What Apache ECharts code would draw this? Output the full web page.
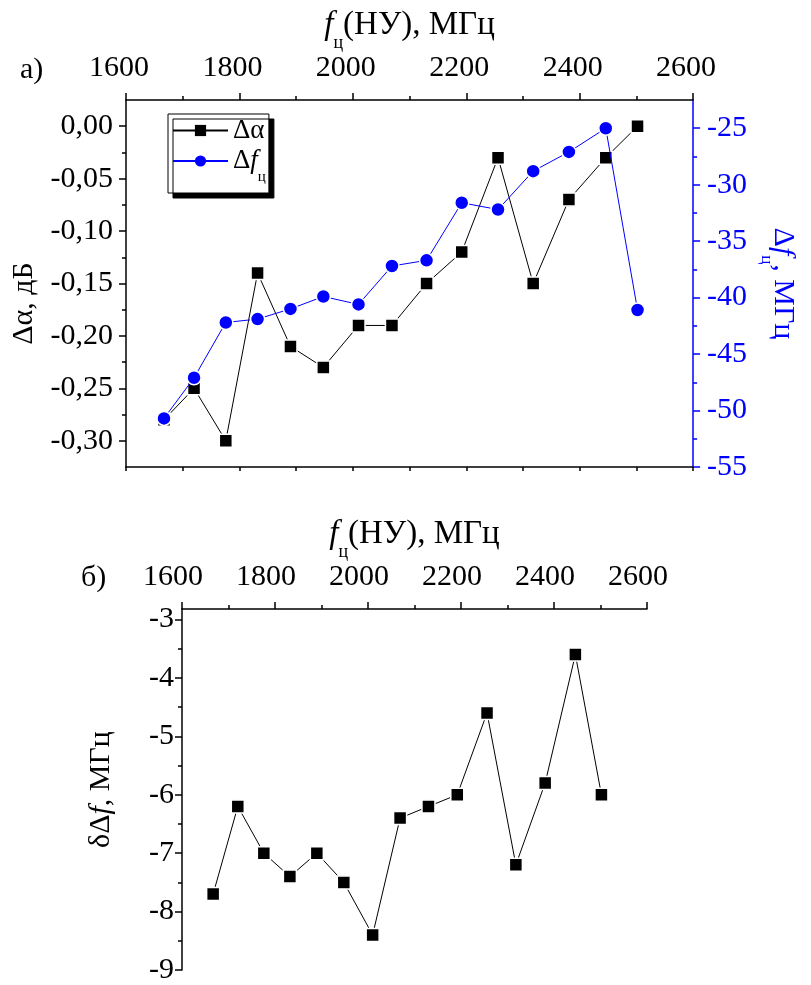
<!DOCTYPE html>
<html>
<head>
<meta charset="utf-8">
<script src="https://cdn.jsdelivr.net/npm/echarts@6/dist/echarts.min.js"></script>
<style>
html,body{margin:0;padding:0;background:#fff;}
#chart{width:811px;height:985px;}
</style>
</head>
<body>
<div id="chart"></div>
<script>
// ---- data ----
const freq = [1667, 1720, 1776, 1832, 1890, 1948, 2010, 2069, 2130, 2192, 2256, 2318, 2381, 2446, 2502];
const dAlpha = [-0.28, -0.25, -0.30, -0.14, -0.21, -0.23, -0.19, -0.19, -0.15, -0.12, -0.03, -0.15, -0.07, -0.03, 0.00];
const dFc = [-50.7, -47.1, -42.2, -41.9, -41.0, -39.9, -40.6, -37.2, -36.7, -31.6, -32.2, -28.8, -27.1, -25.0, -41.1];
const ddF = [-7.7, -6.2, -7.0, -7.4, -7.0, -7.5, -8.4, -6.4, -6.2, -6.0, -4.6, -7.2, -5.8, -3.6, -6.0];

// ---- tick labels ----
const alphaTicks = [0, -0.05, -0.10, -0.15, -0.20, -0.25, -0.30];
const alphaMinor = [-0.025, -0.075, -0.125, -0.175, -0.225, -0.275];
const dfTicks = [-25, -30, -35, -40, -45, -50, -55];
const dfMinor = [-27.5, -32.5, -37.5, -42.5, -47.5, -52.5];
const ddTicks = [-3, -4, -5, -6, -7, -8, -9];
const ddMinor = [-3.5, -4.5, -5.5, -6.5, -7.5, -8.5];

const FONT = 'Liberation Serif';
const BLUE = '#0000ff';
const BLACK = '#000';

const nameRich = {
  n: {fontFamily: FONT, fontSize: 30, color: BLACK, lineHeight: 40},
  i: {fontFamily: FONT, fontSize: 30, fontStyle: 'italic', color: BLACK, lineHeight: 40},
  s: {fontFamily: FONT, fontSize: 17, color: BLACK, lineHeight: 10, padding: [28, 0, 0, 0], verticalAlign: 'top'}
};
const titleRich = {
  n: {fontFamily: FONT, fontSize: 33, color: BLACK, lineHeight: 42},
  i: {fontFamily: FONT, fontSize: 33, fontStyle: 'italic', color: BLACK, lineHeight: 42},
  s: {fontFamily: FONT, fontSize: 18, color: BLACK, lineHeight: 10, padding: [30, 0, 0, 0], verticalAlign: 'top'}
};
const nameRichBlue = {
  n: Object.assign({}, nameRich.n, {color: BLUE}),
  i: Object.assign({}, nameRich.i, {color: BLUE}),
  s: Object.assign({}, nameRich.s, {color: BLUE})
};
const freqName = '{i|f}{s|ц}{n|(НУ), МГц}';

function lineStyle(c) { return {color: c, width: 1.5}; }

function topFreqAxis(grid, shift) {
  return {
    type: 'value', gridIndex: grid, position: 'top',
    min: 1600, max: 2600, interval: 200,
    axisLine: {show: true, onZero: false, lineStyle: lineStyle(BLACK)},
    axisTick: {show: true, inside: false, length: 7, lineStyle: lineStyle(BLACK)},
    minorTick: {show: true, splitNumber: 2, length: 4, lineStyle: lineStyle(BLACK)},
    splitLine: {show: false}, minorSplitLine: {show: false},
    axisLabel: {fontFamily: FONT, fontSize: 30, color: BLACK, margin: 17, padding: [0, shift, 0, 0],
      formatter: function (v) { return String(v); }},
    name: freqName, nameLocation: 'middle', nameGap: 50,
    nameTextStyle: {rich: titleRich}
  };
}

const chart = echarts.init(document.getElementById('chart'), null, {renderer: 'canvas'});

const option = {
  backgroundColor: '#fff',
  animation: false,
  title: [
    {text: 'а)', left: 15, top: 50, padding: 5, textStyle: {fontFamily: FONT, fontSize: 30, fontWeight: 'normal', color: BLACK}},
    {text: 'б)', left: 76, top: 558, padding: 5, textStyle: {fontFamily: FONT, fontSize: 30, fontWeight: 'normal', color: BLACK}}
  ],
  legend: {
    show: true, orient: 'vertical', left: 168, top: 114,
    padding: [3, 3, 8, 4], itemGap: 2, itemWidth: 55, itemHeight: 14,
    backgroundColor: '#fff', borderColor: BLACK, borderWidth: 1,
    shadowColor: BLACK, shadowBlur: 0, shadowOffsetX: 5, shadowOffsetY: 5,
    selectedMode: false,
    itemStyle: {borderWidth: 0},
    data: ['Δα', 'Δfц'],
    formatter: function (n) { return n === 'Δα' ? '{n|Δα}' : '{n|Δ}{i|f}{s|ц}'; },
    textStyle: {
      fontFamily: FONT, fontSize: 27, color: BLACK,
      rich: {
        n: {fontFamily: FONT, fontSize: 27, color: BLACK, lineHeight: 30},
        i: {fontFamily: FONT, fontSize: 27, fontStyle: 'italic', color: BLACK, lineHeight: 30},
        s: {fontFamily: FONT, fontSize: 15, color: BLACK, lineHeight: 6, padding: [24, 0, 0, 0], verticalAlign: 'top'}
      }
    }
  },
  grid: [
    {left: 126, top: 100, width: 575, height: 367, containLabel: false},
    {left: 182, top: 609, width: 465, height: 367, containLabel: false}
  ],
  xAxis: [
    topFreqAxis(0, 14),
    {
      type: 'value', gridIndex: 0, position: 'bottom',
      min: 1600, max: 2600, interval: 100,
      axisLine: {show: true, onZero: false, lineStyle: lineStyle(BLACK)},
      axisTick: {show: true, inside: false, length: 4, lineStyle: lineStyle(BLACK)},
      axisLabel: {show: false}, splitLine: {show: false}
    },
    topFreqAxis(1, 18)
  ],
  yAxis: [
    { // 0: Δα, left
      type: 'value', gridIndex: 0, position: 'left',
      min: -0.325, max: 0.025,
      axisLine: {show: true, onZero: false, lineStyle: lineStyle(BLACK)},
      axisTick: {show: true, inside: false, length: 7, customValues: alphaTicks, lineStyle: lineStyle(BLACK)},
      axisLabel: {
        customValues: alphaTicks, fontFamily: FONT, fontSize: 30, color: BLACK, margin: 13,
        formatter: function (v) { return Math.abs(v) < 1e-9 ? '0,00' : v.toFixed(2).replace('.', ','); }
      },
      splitLine: {show: false},
      name: 'Δα, дБ', nameLocation: 'middle', nameGap: 86,
      nameTextStyle: {fontFamily: FONT, fontSize: 30, color: BLACK, padding: [0, 40, 0, 0]}
    },
    { // 1: Δfц, right
      type: 'value', gridIndex: 0, position: 'right',
      min: -55, max: -22.5,
      axisLine: {show: true, onZero: false, lineStyle: lineStyle(BLUE)},
      axisTick: {show: true, inside: false, length: 7, customValues: dfTicks, lineStyle: lineStyle(BLUE)},
      axisLabel: {customValues: dfTicks, fontFamily: FONT, fontSize: 30, color: BLUE, margin: 14},
      splitLine: {show: false},
      name: '{n|Δ}{i|f}{s|ц}{n|, МГц}', nameLocation: 'middle', nameGap: 69, nameRotate: -90,
      nameTextStyle: {rich: nameRichBlue}
    },
    { // 2: minor ticks Δα
      type: 'value', gridIndex: 0, position: 'left',
      min: -0.325, max: 0.025,
      axisLine: {show: false, onZero: false},
      axisTick: {show: true, inside: false, length: 4, customValues: alphaMinor, lineStyle: lineStyle(BLACK)},
      axisLabel: {show: false}, splitLine: {show: false}
    },
    { // 3: minor ticks Δfц
      type: 'value', gridIndex: 0, position: 'right',
      min: -55, max: -22.5,
      axisLine: {show: false, onZero: false},
      axisTick: {show: true, inside: false, length: 4, customValues: dfMinor, lineStyle: lineStyle(BLUE)},
      axisLabel: {show: false}, splitLine: {show: false}
    },
    { // 4: δΔf, bottom chart
      type: 'value', gridIndex: 1, position: 'left',
      min: -9, max: -2.82,
      axisLine: {show: true, onZero: false, lineStyle: lineStyle(BLACK)},
      axisTick: {show: true, inside: false, length: 7, customValues: ddTicks, lineStyle: lineStyle(BLACK)},
      axisLabel: {customValues: ddTicks, fontFamily: FONT, fontSize: 30, color: BLACK, margin: 8},
      splitLine: {show: false},
      name: '{n|δΔ}{i|f}{n|, МГц}', nameLocation: 'middle', nameGap: 66,
      nameTextStyle: {rich: {
        n: {fontFamily: FONT, fontSize: 30, color: BLACK, lineHeight: 30},
        i: {fontFamily: FONT, fontSize: 30, fontStyle: 'italic', color: BLACK, lineHeight: 30}
      }}
    },
    { // 5: minor ticks bottom chart
      type: 'value', gridIndex: 1, position: 'left',
      min: -9, max: -2.82,
      axisLine: {show: false, onZero: false},
      axisTick: {show: true, inside: false, length: 4, customValues: ddMinor, lineStyle: lineStyle(BLACK)},
      axisLabel: {show: false}, splitLine: {show: false}
    }
  ],
  series: [
    {
      name: 'Δα', type: 'line', xAxisIndex: 0, yAxisIndex: 0,
      data: freq.map((f, i) => [f, dAlpha[i]]),
      symbol: 'rect', symbolSize: 13,
      itemStyle: {color: BLACK, borderColor: '#fff', borderWidth: 1.5},
      lineStyle: {color: BLACK, width: 1},
      z: 3
    },
    {
      name: 'Δfц', type: 'line', xAxisIndex: 0, yAxisIndex: 1,
      data: freq.map((f, i) => [f, dFc[i]]),
      symbol: 'circle', symbolSize: 14,
      itemStyle: {color: BLUE, borderColor: '#fff', borderWidth: 1.5},
      lineStyle: {color: BLUE, width: 1},
      z: 4
    },
    {
      name: 'δΔf', type: 'line', xAxisIndex: 2, yAxisIndex: 4,
      data: freq.map((f, i) => [f, ddF[i]]),
      symbol: 'rect', symbolSize: 13,
      itemStyle: {color: BLACK, borderColor: '#fff', borderWidth: 1.5},
      lineStyle: {color: BLACK, width: 1},
      z: 3
    }
  ]
};
chart.setOption(option);
</script>
</body>
</html>
